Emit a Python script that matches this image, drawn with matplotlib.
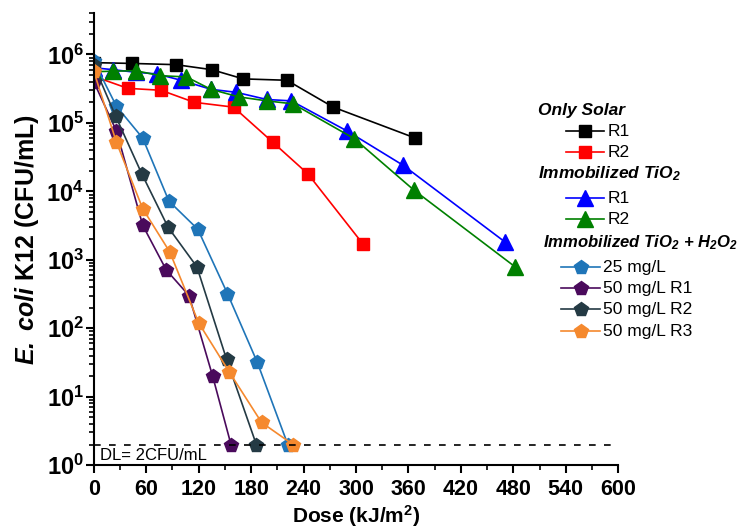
import math
import matplotlib
matplotlib.use("Agg")
import matplotlib.pyplot as plt
from matplotlib.lines import Line2D
from matplotlib.ticker import MultipleLocator, FixedLocator, FuncFormatter, NullFormatter

plt.rcParams['font.family'] = ['Liberation Sans', 'DejaVu Sans']
plt.rcParams['mathtext.fontset'] = 'custom'
plt.rcParams['mathtext.rm'] = 'Liberation Sans'
plt.rcParams['mathtext.it'] = 'Liberation Sans:italic'
plt.rcParams['mathtext.bf'] = 'Liberation Sans:bold'
plt.rcParams['mathtext.bfit'] = 'Liberation Sans:bold:italic'

# Only solar
solar_r1_dose = [0, 44, 94, 135, 171, 221, 274, 368]
solar_r1_cfu = [7.6e5, 7.4e5, 7.1e5, 6.0e5, 4.4e5, 4.2e5, 1.7e5, 6.0e4]
solar_r2_dose = [0, 39, 77, 115, 160, 205, 245, 308]
solar_r2_cfu = [4.8e5, 3.2e5, 3.0e5, 2.0e5, 1.7e5, 5.2e4, 1.8e4, 1.7e3]

# Immobilized TiO2
tio2_r1_dose = [0, 22, 48, 72, 100, 134, 163, 198, 226, 290, 354, 471]
tio2_r1_cfu = [6.4e5, 6.0e5, 5.5e5, 5.2e5, 4.2e5, 3.1e5, 2.8e5, 2.2e5, 2.1e5, 7.6e4, 2.4e4, 1.8e3]
tio2_r2_dose = [0, 22, 48, 76, 106, 134, 166, 198, 228, 298, 366, 482]
tio2_r2_cfu = [5.6e5, 5.7e5, 5.8e5, 4.9e5, 4.7e5, 3.1e5, 2.4e5, 2.1e5, 1.9e5, 5.9e4, 1.05e4, 7.9e2]

# Immobilized TiO2 + H2O2
h2o2_25_dose = [0, 26, 56, 86, 119, 153, 187, 222]
h2o2_25_cfu = [8.0e5, 1.75e5, 6.0e4, 7.2e3, 2.8e3, 3.2e2, 32, 2]
h2o2_50r1_dose = [0, 26, 56, 83, 109, 136, 157]
h2o2_50r1_cfu = [4.0e5, 7.6e4, 3.2e3, 7.1e2, 3.0e2, 20, 2]
h2o2_50r2_dose = [0, 25, 55, 85, 118, 152, 186]
h2o2_50r2_cfu = [7.0e5, 1.26e5, 1.8e4, 3.0e3, 7.9e2, 35, 2]
h2o2_50r3_dose = [0, 26, 56, 87, 120, 155, 192, 228]
h2o2_50r3_cfu = [5.7e5, 5.2e4, 5.6e3, 1.3e3, 1.2e2, 23, 4.2, 2]

detection_limit = 2
y_major = [1e0, 1e1, 1e2, 1e3, 1e4, 1e5, 1e6]

series = [
    (solar_r1_dose, solar_r1_cfu, 'black', 's', 'R1'),
    (solar_r2_dose, solar_r2_cfu, '#ff0000', 's', 'R2'),
    (tio2_r1_dose, tio2_r1_cfu, '#0000ff', '^', 'R1'),
    (tio2_r2_dose, tio2_r2_cfu, '#008000', '^', 'R2'),
    (h2o2_25_dose, h2o2_25_cfu, '#1f75b8', 'p', '25 mg/L'),
    (h2o2_50r1_dose, h2o2_50r1_cfu, '#4a0a5c', 'p', '50 mg/L R1'),
    (h2o2_50r2_dose, h2o2_50r2_cfu, '#243a44', 'p', '50 mg/L R2'),
    (h2o2_50r3_dose, h2o2_50r3_cfu, '#f5892e', 'p', '50 mg/L R3'),
]
msizes = {'s': 9, '^': 11, 'p': 10.5}

fig = plt.figure(figsize=(7.44, 5.31), dpi=100)
ax = fig.add_axes([0.126, 0.124, 0.705, 0.851])

for x, y, c, m, lab in series:
    ax.plot(x, y, color=c, marker=m, markersize=msizes[m], linewidth=1.2,
            markeredgecolor=c, label=lab)

ax.plot([0, 594], [detection_limit, detection_limit], color='black',
        linestyle=(0, (4, 5)), linewidth=1.2)
ax.text(0.0115, 0.011, 'DL= 2CFU/mL', transform=ax.transAxes, fontsize=12,
        ha='left', va='baseline')

ax.set_yscale('log')
ax.set_xlim(0, 600)
ax.set_ylim(1, 4e6)
ax.xaxis.set_major_locator(MultipleLocator(60))
ax.xaxis.set_minor_locator(MultipleLocator(30))
ax.yaxis.set_major_locator(FixedLocator(y_major))
y_minor = [m * d for d in y_major for m in range(2, 10) if m * d <= 4e6]
ax.yaxis.set_minor_locator(FixedLocator(y_minor))
ax.yaxis.set_major_formatter(FuncFormatter(lambda v, p: r"$\mathbf{10^{%d}}$" % round(math.log10(v))))
ax.yaxis.set_minor_formatter(NullFormatter())

for s in ['top', 'right']:
    ax.spines[s].set_visible(False)
for s in ['left', 'bottom']:
    ax.spines[s].set_linewidth(1.5)
ax.tick_params(which='major', direction='out', length=6, width=1.5, pad=2)
ax.tick_params(which='minor', direction='out', length=3.5, width=1.2)
ax.tick_params(axis='x', labelsize=15.5, pad=4)
ax.tick_params(axis='y', labelsize=17, pad=1)
for lbl in ax.get_xticklabels():
    lbl.set_fontweight('bold')

ax.set_xlabel(r"Dose (kJ/m$^\mathbf{2}$)", fontsize=15, fontweight='bold', labelpad=2)
ax.set_ylabel(r"$\mathbfit{E.\ coli}$ K12 (CFU/mL)", fontsize=18, fontweight='bold', labelpad=4)


# manual grouped legend (axes fraction coordinates)
def px2ax(px, py):
    return (px - 94) / 524, (465 - py) / 452


def header(px, py, text, size=12.5):
    x, y = px2ax(px, py)
    ax.text(x, y, text, transform=ax.transAxes, fontsize=size, ha='left',
            va='center', fontweight='bold', style='italic')


def entry(px0, px1, py, color, marker, text):
    x0, y = px2ax(px0, py)
    x1, _ = px2ax(px1, py)
    ax.add_line(Line2D([x0, x1], [y, y], color=color, linewidth=1.2,
                       transform=ax.transAxes, clip_on=False))
    ax.add_line(Line2D([(x0 + x1) / 2], [y], color=color, marker=marker,
                       markersize=msizes[marker], markeredgecolor=color,
                       transform=ax.transAxes, clip_on=False))
    xt, _ = px2ax(px1 + 3, py)
    ax.text(xt, y, text, transform=ax.transAxes, fontsize=12.5,
            ha='left', va='center')


header(538, 110, 'Only Solar')
entry(566, 604, 131, *series[0][2:])
entry(566, 604, 152, *series[1][2:])
header(538, 173, r"Immobilized TiO$_\mathbfit{2}$")
entry(566, 604, 198, *series[2][2:])
entry(566, 604, 219, *series[3][2:])
header(543, 242, r"Immobilized TiO$_\mathbfit{2}$ + H$_\mathbfit{2}$O$_\mathbfit{2}$", size=12)
entry(561, 600, 267, *series[4][2:])
entry(561, 600, 288, *series[5][2:])
entry(561, 600, 309, *series[6][2:])
entry(561, 600, 331, *series[7][2:])

fig.savefig('out.png', dpi=100)
